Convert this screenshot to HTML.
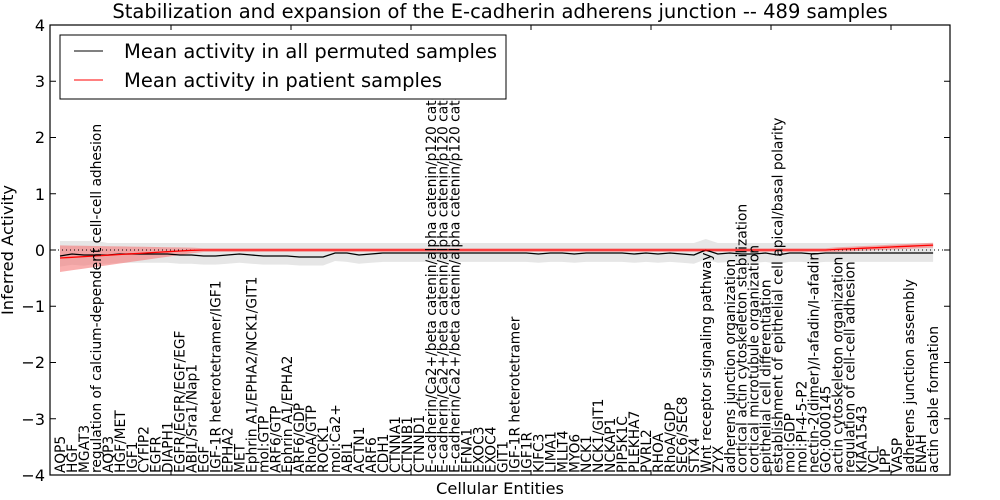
<!DOCTYPE html>
<html><head><meta charset="utf-8"><style>
html,body{margin:0;padding:0;background:#fff;width:1000px;height:500px;overflow:hidden}
svg text{font-family:"DejaVu Sans","Liberation Sans",sans-serif}
</style></head><body>
<svg id="s" width="1000" height="500" xmlns="http://www.w3.org/2000/svg">
<rect width="1000" height="500" fill="#fff"/>
<g id="bands"></g>
<line x1="50" y1="250" x2="950" y2="250" stroke="#000" stroke-width="1" stroke-dasharray="1,3"/>
<g id="lines"></g>
<g id="labels" font-size="13.8" fill="#000"></g>
<rect x="50" y="25" width="900" height="450" fill="none" stroke="#000" stroke-width="1.2"/>
<g id="ticks" stroke="#000" stroke-width="1"></g>
<g font-size="16" text-anchor="end" fill="#000">
<text x="45" y="31">4</text><text x="45" y="87">3</text><text x="45" y="143">2</text><text x="45" y="200">1</text><text x="45" y="256">0</text><text x="45" y="312">−1</text><text x="45" y="368">−2</text><text x="45" y="425">−3</text><text x="45" y="481">−4</text>
</g>
<text x="500" y="18" font-size="19.5" text-anchor="middle">Stabilization and expansion of the E-cadherin adherens junction -- 489 samples</text>
<text x="500" y="494" font-size="16.3" text-anchor="middle">Cellular Entities</text>
<text transform="translate(13,250) rotate(-90)" font-size="16.3" text-anchor="middle">Inferred Activity</text>
<g>
<rect x="60" y="35" width="446" height="64" fill="#fff" stroke="#000" stroke-width="1"/>
<line x1="74" y1="51" x2="103" y2="51" stroke="#000" stroke-width="1"/>
<line x1="74" y1="80" x2="103" y2="80" stroke="#f00" stroke-width="1"/>
<text x="124" y="58" font-size="19.5">Mean activity in all permuted samples</text>
<text x="124" y="87" font-size="19.5">Mean activity in patient samples</text>
</g>
</svg>
<script>
var L=["AQP5","HGF","MGAT3","regulation of calcium-dependent cell-cell adhesion","AQP3","HGF/MET","IGF1","CYFIP2","EGFR","DIAPH1","EGFR/EGFR/EGF/EGF","ABI1/Sra1/Nap1","EGF","IGF-1R heterotetramer/IGF1","EPHA2","MET","Ephrin A1/EPHA2/NCK1/GIT1","mol:GTP","ARF6/GTP","Ephrin A1/EPHA2","ARF6/GDP","RhoA/GTP","ROCK1","mol:Ca2+","ABI1","ACTN1","ARF6","CDH1","CTNNA1","CTNNB1","CTNND1","E-cadherin/Ca2+/beta catenin/alpha catenin/p120 catenin","E-cadherin/Ca2+/beta catenin/alpha catenin/p120 catenin","E-cadherin/Ca2+/beta catenin/alpha catenin/p120 catenin","EFNA1","EXOC3","EXOC4","GIT1","IGF-1R heterotetramer","IGF1R","KIFC3","LIMA1","MLLT4","MYO6","NCK1","NCK1/GIT1","NCKAP1","PIP5K1C","PLEKHA7","PVRL2","RHOA","RhoA/GDP","SEC6/SEC8","STX4","Wnt receptor signaling pathway","ZYX","adherens junction organization","cortical actin cytoskeleton stabilization","cortical microtubule organization","epithelial cell differentiation","establishment of epithelial cell apical/basal polarity","mol:GDP","mol:PI-4-5-P2","nectin-2(dimer)/I-afadin/I-afadin","GO:0000145","actin cytoskeleton organization","regulation of cell-cell adhesion","KIAA1543","VCL","LPP","VASP","adherens junction assembly","ENAH","actin cable formation"];
function X(i){return 60+11.96*i;}
var g=document.getElementById("labels"),h="";
for(var i=0;i<L.length;i++){var x=X(i)+5;h+='<text transform="translate('+x.toFixed(1)+',473) rotate(-90)">'+L[i]+'</text>';}
g.innerHTML=h;
var n=L.length,blk=[],up=[],lo=[],red=[],rup=[],rlo=[];
var bdev=[4,2,3,3,3,2,2,2,2,2,3,3,4,4,3,2,3,4,4,4,5,5,5,0,1,3,2,1,1,1,1,1,1,1,1,1,1,1,1,1,2,1,1,2,1,1,1,1,2,1,2,1,2,3,-2,2,1,2,2,1,3,1,1,2,1,1,1,1,1,1,1,1,1,1];
for(var i=0;i<n;i++){var b=252+(bdev[i]||1);blk.push(b);up.push(243+(i<4?-2:0)+(i==54?-4:0));lo.push(261+bdev[i]*0.9+(i<3?2:0));
 var r=250; if(i<12)r=258-i*0.7; if(i>64)r=250-(i-64)*0.55; red.push(r);
 var w=i<12?(14-i*1.0):2; if(i>64)w=2.5; rup.push(r-w*0.9); rlo.push(r+w);}
function pts(a){return a.map(function(y,i){return X(i).toFixed(1)+","+y.toFixed(1)}).join(" ");}
function band(a,b,c){var p=pts(a)+" "+b.map(function(y,i){return [X(i),y]}).reverse().map(function(q){return q[0].toFixed(1)+","+q[1].toFixed(1)}).join(" ");return '<polygon points="'+p+'" fill="'+c+'"/>';}
document.getElementById("bands").innerHTML=band(up,lo,"#e6e6e6")+band(rup,rlo,"rgba(245,120,120,0.6)");
document.getElementById("lines").innerHTML='<polyline points="'+pts(blk)+'" fill="none" stroke="#000" stroke-width="1.3"/><polyline points="'+pts(red)+'" fill="none" stroke="#f00" stroke-width="1.3"/>';
var t="";
for(var k=0;k<9;k++){var y=25+56.25*k;t+='<line x1="50" y1="'+y+'" x2="56" y2="'+y+'"/><line x1="944" y1="'+y+'" x2="950" y2="'+y+'"/>';}
for(var k=0;k<7;k++){var x=171+120*k;t+='<line x1="'+x+'" y1="25" x2="'+x+'" y2="30"/><line x1="'+x+'" y1="470" x2="'+x+'" y2="475"/>';}
document.getElementById("ticks").innerHTML=t;
</script>
</body></html>
